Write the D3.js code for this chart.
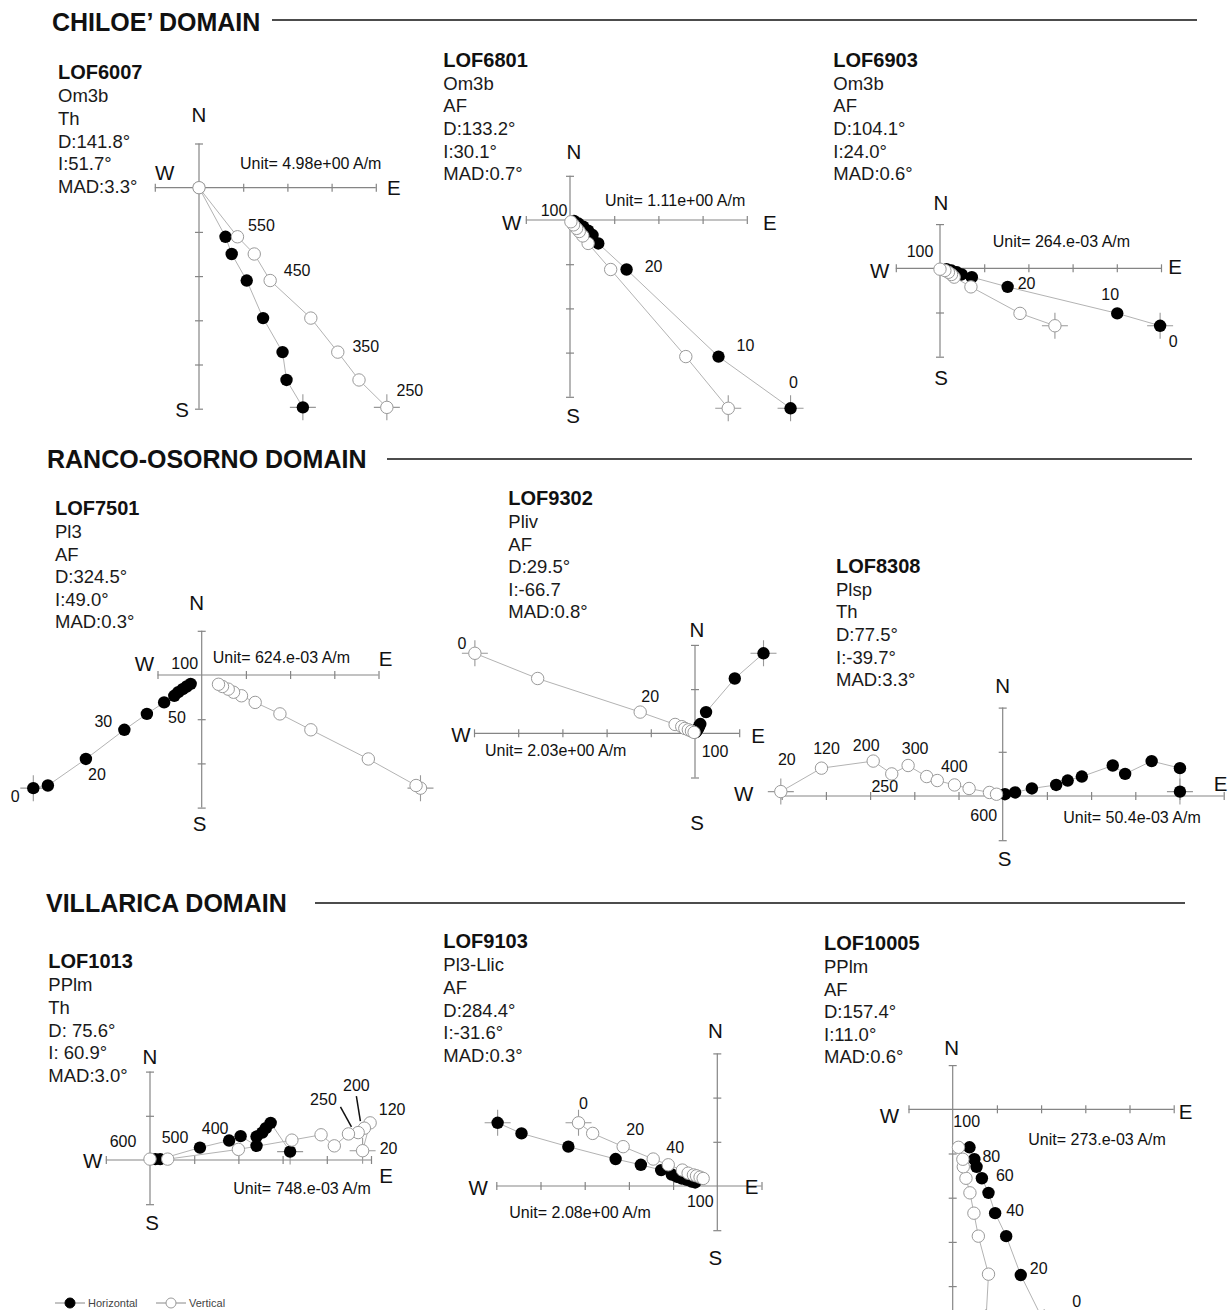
<!DOCTYPE html>
<html>
<head>
<meta charset="utf-8">
<script src="https://cdn.jsdelivr.net/npm/d3@7"></script>
<style>
  body { margin: 0; background: #fff; }
  svg { display: block; font-family: "Liberation Sans", Arial, Helvetica, sans-serif; }
</style>
</head>
<body>
<svg id="chart" width="1231" height="1310"></svg>
<script>
// ---------- Domain headings ----------
const domains = ["CHILOE\u2019 DOMAIN", "RANCO-OSORNO DOMAIN", "VILLARICA DOMAIN"];

// ---------- Sample names and summary lines ----------
const sampleNames = ["LOF6007", "LOF6801", "LOF6903", "LOF7501", "LOF9302", "LOF8308", "LOF1013", "LOF9103", "LOF10005"];
const sampleInfo = [
  ["Om3b", "Th", "D:141.8°", "I:51.7°", "MAD:3.3°"],
  ["Om3b", "AF", "D:133.2°", "I:30.1°", "MAD:0.7°"],
  ["Om3b", "AF", "D:104.1°", "I:24.0°", "MAD:0.6°"],
  ["Pl3", "AF", "D:324.5°", "I:49.0°", "MAD:0.3°"],
  ["Pliv", "AF", "D:29.5°", "I:-66.7", "MAD:0.8°"],
  ["Plsp", "Th", "D:77.5°", "I:-39.7°", "MAD:3.3°"],
  ["PPlm", "Th", "D: 75.6°", "I: 60.9°", "MAD:3.0°"],
  ["Pl3-Llic", "AF", "D:284.4°", "I:-31.6°", "MAD:0.3°"],
  ["PPlm", "AF", "D:157.4°", "I:11.0°", "MAD:0.6°"]
];
const unitLabels = [
  "Unit=  4.98e+00 A/m", "Unit=  1.11e+00 A/m", "Unit=  264.e-03 A/m",
  "Unit=  624.e-03 A/m", "Unit=  2.03e+00 A/m", "Unit=  50.4e-03 A/m",
  "Unit=  748.e-03 A/m", "Unit=  2.08e+00 A/m", "Unit=  273.e-03 A/m"
];

// ---------- Demagnetisation paths, in axis-unit multiples, first step (NRM) first ----------
// [east, north] for the horizontal projection, [east, up] style pairs for the vertical one
const lof6007H = [[2.35,-4.97],[1.98,-4.35],[1.89,-3.72],[1.45,-2.95],[1.08,-2.10],[0.74,-1.50],[0.60,-1.11],[0,0]];
const lof6007V = [[4.25,-4.97],[3.62,-4.35],[3.14,-3.72],[2.53,-2.95],[1.61,-2.10],[1.25,-1.50],[0.87,-1.11],[0,0]];

const lof6801H = [[4.99,-4.26],[3.36,-3.09],[1.28,-1.12],[0.64,-0.53],[0.51,-0.34],[0.41,-0.24],[0.30,-0.15],[0.19,-0.08],[0.09,-0.02]];
const lof6801V = [[3.58,-4.26],[2.62,-3.09],[0.92,-1.12],[0.41,-0.53],[0.29,-0.36],[0.21,-0.26],[0.15,-0.19],[0.08,-0.11],[0.02,-0.04]];

const lof6903H = [[4.98,-1.30],[4.01,-1.02],[1.53,-0.42],[0.72,-0.20],[0.49,-0.14],[0.38,-0.09],[0.26,-0.05],[0.15,-0.02]];
const lof6903V = [[2.60,-1.30],[1.81,-1.02],[0.70,-0.42],[0.32,-0.20],[0.26,-0.14],[0.19,-0.09],[0.11,-0.05],[0.00,-0.02]];

const lof7501H = [[-3.81,-2.56],[-3.48,-2.50],[-2.62,-1.90],[-1.75,-1.24],[-1.24,-0.88],[-0.85,-0.62],[-0.62,-0.47],[-0.53,-0.39],[-0.43,-0.32],[-0.34,-0.26],[-0.25,-0.20]];
const lof7501V = [[4.95,-2.56],[4.85,-2.50],[3.77,-1.90],[2.47,-1.24],[1.77,-0.88],[1.21,-0.62],[0.90,-0.47],[0.72,-0.39],[0.60,-0.32],[0.47,-0.26],[0.38,-0.21]];

const lof9302H = [[1.55,1.81],[0.90,1.24],[0.25,0.48],[0.12,0.21],[0.09,0.15],[0.07,0.11],[0.05,0.08],[0.03,0.05],[0.01,0.02]];
const lof9302V = [[-4.98,1.81],[-3.56,1.24],[-1.24,0.48],[-0.45,0.20],[-0.30,0.15],[-0.23,0.11],[-0.15,0.08],[-0.08,0.05],[-0.02,0.02]];

const lof8308H = [[4.01,0.10],[4.01,0.63],[3.37,0.79],[2.77,0.50],[2.49,0.69],[1.79,0.44],[1.47,0.35],[1.21,0.25],[0.66,0.17],[0.28,0.08],[0.05,0.04]];
const lof8308V = [[-5.02,0.10],[-4.10,0.63],[-2.93,0.79],[-2.51,0.50],[-2.14,0.69],[-1.72,0.44],[-1.48,0.35],[-1.09,0.25],[-0.76,0.17],[-0.30,0.08],[-0.14,0.04]];

const lof1013H = [[3.17,0.19],[2.73,0.84],[2.62,0.72],[2.54,0.62],[2.41,0.53],[2.41,0.32],[2.05,0.54],[1.79,0.44],[1.13,0.28],[0.23,0.02],[0.12,0.02]];
const lof1013V = [[4.81,0.21],[4.98,0.84],[4.85,0.72],[4.71,0.62],[4.49,0.59],[4.17,0.32],[3.87,0.57],[3.21,0.45],[2.00,0.24],[0.40,0.02],[0.00,0.02]];

const lof9103H = [[-4.97,1.43],[-4.43,1.19],[-3.37,0.89],[-2.30,0.61],[-1.73,0.48],[-1.27,0.36],[-1.03,0.26],[-0.92,0.21],[-0.81,0.17],[-0.69,0.14],[-0.58,0.10],[-0.50,0.08]];
const lof9103V = [[-3.14,1.43],[-2.82,1.19],[-2.13,0.89],[-1.45,0.61],[-1.11,0.48],[-0.79,0.36],[-0.66,0.29],[-0.54,0.25],[-0.47,0.23],[-0.39,0.20],[-0.32,0.17]];

const lof10005H = [[2.07,-4.82],[1.54,-3.75],[1.21,-2.87],[0.96,-2.35],[0.81,-1.89],[0.66,-1.56],[0.54,-1.30],[0.49,-1.13],[0.38,-0.86]];
const lof10005V = [[0.75,-4.82],[0.81,-3.73],[0.58,-2.87],[0.48,-2.35],[0.39,-1.89],[0.30,-1.56],[0.24,-1.30],[0.23,-1.13],[0.13,-0.86]];

const horizontalSeries = [lof6007H, lof6801H, lof6903H, lof7501H, lof9302H, lof8308H, lof1013H, lof9103H, lof10005H];
const verticalSeries   = [lof6007V, lof6801V, lof6903V, lof7501V, lof9302V, lof8308V, lof1013V, lof9103V, lof10005V];

// Demagnetisation step labels: [series ("h", "v" or "o" = origin), point index, text]
const stepLabels = [
  [["v",6,"550"],["v",4,"450"],["v",2,"350"],["v",0,"250"]],
  [["h",2,"20"],["h",1,"10"],["h",0,"0"],["o",0,"100"]],
  [["h",2,"20"],["h",1,"10"],["h",0,"0"],["o",0,"100"]],
  [["h",0,"0"],["h",2,"20"],["h",3,"30"],["h",4,"50"],["o",0,"100"]],
  [["v",0,"0"],["v",2,"20"],["o",0,"100"]],
  [["v",0,"20"],["v",1,"120"],["v",2,"200"],["v",3,"250"],["v",4,"300"],["v",6,"400"],["o",0,"600"]],
  [["o",0,"600"],["o",0,"500"],["h",7,"400"],["v",0,"20"],["v",1,"120"],["v",2,"200"],["v",4,"250"]],
  [["v",0,"0"],["v",2,"20"],["v",4,"40"],["o",0,"100"]],
  [["h",1,"20"],["h",3,"40"],["h",5,"60"],["h",7,"80"],["o",0,"0"],["o",0,"100"]]
];

// ---------- Layout (pixels) ----------
const U = 44.2;                // pixels per axis unit
const headings = [
  { x: 52, y: 31, lx1: 272, lx2: 1197, ly: 20 },
  { x: 47, y: 468, lx1: 387, lx2: 1192, ly: 459 },
  { x: 46, y: 912, lx1: 315, lx2: 1185, ly: 903 }
];
// ox, oy: origin; ext: [xmin, xmax, ymin, ymax] in axis units;
// tx, ty: sample name position; ux, uy: unit text; cN/cW/cE/cS: compass letter offsets from axis ends;
// lab: offsets of step labels (same order as stepLabels); lead: optional leader lines
const panels = [
  { ox: 199, oy: 187.7, ext: [-1,4,-5,1], tx: 58, ty: 79.3, ux: 240, uy: 169,
    cN: [0,-29], cW: [10,-15], cE: [18,0], cS: [-17,1],
    lab: [[24,-11],[27,-10],[28,-6],[23,-17]] },
  { ox: 570, oy: 220, ext: [-1,4,-4,1], tx: 443.3, ty: 66.7, ux: 605, uy: 206,
    cN: [4,-24], cW: [-14,2], cE: [23,2], cS: [3,19],
    lab: [[27,-3],[27,-11],[3,-26],[-16,-10]] },
  { ox: 940, oy: 268.3, ext: [-1,5,-2,1], tx: 833.3, ty: 66.7, ux: 992.7, uy: 247,
    cN: [1,-22], cW: [-16,2], cE: [14,-2], cS: [1,21],
    lab: [[19,-3],[-7,-19],[13,16],[-20,-17]] },
  { ox: 201.7, oy: 675, ext: [-1,4,-3,1], tx: 55, ty: 515, ux: 212.7, uy: 663,
    cN: [-5,-28], cW: [-13,-12], cE: [7,-17], cS: [-2,16],
    lab: [[-18,8],[11,16],[-21,-8],[30,4],[-17,-12]] },
  { ox: 695, oy: 733.3, ext: [-5,1,-1,2], tx: 508.3, ty: 505, ux: 485, uy: 756,
    cN: [2,-15], cW: [-13,1], cE: [19,2], cS: [2,45],
    lab: [[-13,-10],[10,-16],[20,18]] },
  { ox: 1002.7, oy: 796, ext: [-5,5,-1,2], tx: 836, ty: 572.7, ux: 1063.3, uy: 823,
    cN: [0,-22], cW: [-38,-3], cE: [-3,-13], cS: [2,18],
    lab: [[6,-32],[5,-20],[-7,-16],[-7,13],[7,-17],[17,-14],[-19,19]] },
  { ox: 150, oy: 1160, ext: [-1,5,-1,2], tx: 48.3, ty: 968.3, ux: 233.3, uy: 1194,
    cN: [0,-15], cW: [-13,0], cE: [15,15], cS: [2,18],
    lab: [[-27,-19],[25,-23],[-14,-12],[26,-2],[22,-13],[-8,-43],[-25,-34]],
    lead: [[5,-8,-32,-4,-7],[6,-8,-27,3,-7]] },
  { ox: 717.3, oy: 1186, ext: [-5,1,-1,3], tx: 443.3, ty: 948.3, ux: 509.3, uy: 1218,
    cN: [-2,-23], cW: [-18,1], cE: [-10,0], cS: [-2,27],
    lab: [[5,-19],[12,-17],[7,-17],[-17,15]] },
  { ox: 952.7, oy: 1109.3, ext: [-1,5,-5,1], tx: 824, ty: 950, ux: 1028.3, uy: 1145,
    cN: [-1,-18], cW: [-19,6], cE: [12,2], cS: null,
    lab: [[18,-7],[20,-3],[23,-3],[17,-3],[124,192],[14,12]] }
];

const axisCol = "#858585";
const pathCol = "#b3b3b3";
const openStroke = "#9a9a9a";
const R = 6.2;

const svg = d3.select("#chart");

// ---------- Domain headings ----------
headings.forEach((h, i) => {
  svg.append("text").attr("x", h.x).attr("y", h.y)
    .attr("font-size", 25).attr("font-weight", "bold").attr("fill", "#111")
    .text(domains[i]);
  svg.append("line").attr("x1", h.lx1).attr("x2", h.lx2).attr("y1", h.ly).attr("y2", h.ly)
    .attr("stroke", "#111").attr("stroke-width", 1.4);
});

// ---------- One orthogonal vector plot per sample ----------
panels.forEach((p, k) => {
  const g = svg.append("g");
  const x = d3.scaleLinear().domain([0, 1]).range([p.ox, p.ox + U]);
  const y = d3.scaleLinear().domain([0, 1]).range([p.oy, p.oy - U]);
  const [x0, x1, y0, y1] = p.ext;

  // sample text block
  g.append("text").attr("x", p.tx).attr("y", p.ty)
    .attr("font-size", 20).attr("font-weight", "bold").attr("fill", "#111")
    .text(sampleNames[k]);
  sampleInfo[k].forEach((s, j) => {
    g.append("text").attr("x", p.tx).attr("y", p.ty + 23 + j * 22.6)
      .attr("font-size", 18.5).attr("fill", "#1a1a1a").text(s);
  });

  // axes
  g.append("line").attr("x1", x(x0)).attr("x2", x(x1)).attr("y1", y(0)).attr("y2", y(0))
    .attr("stroke", axisCol).attr("stroke-width", 1.2);
  g.append("line").attr("x1", x(0)).attr("x2", x(0)).attr("y1", y(y0)).attr("y2", y(y1))
    .attr("stroke", axisCol).attr("stroke-width", 1.2);
  const xt = d3.range(x0, x1 + 1).filter(v => v !== 0);
  const yt = d3.range(y0, y1 + 1).filter(v => v !== 0);
  g.append("g").attr("transform", `translate(0,${y(0) - 4})`)
    .call(d3.axisBottom(x).tickValues(xt).tickSize(8).tickSizeOuter(0).tickFormat(""))
    .call(a => a.select(".domain").remove())
    .selectAll("line").attr("stroke", axisCol).attr("stroke-width", 1.2);
  g.append("g").attr("transform", `translate(${x(0) - 4},0)`)
    .call(d3.axisRight(y).tickValues(yt).tickSize(8).tickSizeOuter(0).tickFormat(""))
    .call(a => a.select(".domain").remove())
    .selectAll("line").attr("stroke", axisCol).attr("stroke-width", 1.2);

  // compass letters
  const comp = [
    ["N", x(0), y(y1), p.cN], ["W", x(x0), y(0), p.cW],
    ["E", x(x1), y(0), p.cE], ["S", x(0), y(y0), p.cS]
  ];
  comp.forEach(([t, ax, ay, off]) => {
    if (!off) return;
    g.append("text").attr("x", ax + off[0]).attr("y", ay + off[1])
      .attr("text-anchor", "middle").attr("dominant-baseline", "central")
      .attr("font-size", 20.5).attr("fill", "#111").text(t);
  });

  // unit
  g.append("text").attr("x", p.ux).attr("y", p.uy)
    .attr("font-size", 16).attr("fill", "#111")
    .text(unitLabels[k]);

  const H = horizontalSeries[k], V = verticalSeries[k];
  const line = d3.line().x(d => x(d[0])).y(d => y(d[1]));
  [H, V].forEach(s => {
    g.append("path").attr("d", line(s)).attr("fill", "none")
      .attr("stroke", pathCol).attr("stroke-width", 1);
  });
  // crosshair on the first (NRM) step
  [H[0], V[0]].forEach(d => {
    const cx = x(d[0]), cy = y(d[1]);
    g.append("path").attr("d", `M${cx - 13},${cy}H${cx + 13}M${cx},${cy - 13}V${cy + 13}`)
      .attr("stroke", "#999").attr("stroke-width", 1.1).attr("fill", "none");
  });
  g.selectAll(null).data(H).join("circle")
    .attr("cx", d => x(d[0])).attr("cy", d => y(d[1])).attr("r", R).attr("fill", "#000");
  g.selectAll(null).data(V).join("circle")
    .attr("cx", d => x(d[0])).attr("cy", d => y(d[1])).attr("r", R)
    .attr("fill", "#fff").attr("stroke", openStroke).attr("stroke-width", 1);

  // step labels
  const anchorOf = (s, i) => s === "h" ? H[i] : s === "v" ? V[i] : [0, 0];
  stepLabels[k].forEach(([s, i, t], j) => {
    const d = anchorOf(s, i), o = p.lab[j];
    g.append("text").attr("x", x(d[0]) + o[0]).attr("y", y(d[1]) + o[1])
      .attr("text-anchor", "middle").attr("dominant-baseline", "central")
      .attr("font-size", 16).attr("fill", "#111").text(t);
  });
  (p.lead || []).forEach(([j, a, b, c, e]) => {
    const [s, i] = stepLabels[k][j];
    const d = anchorOf(s, i);
    g.append("line")
      .attr("x1", x(d[0]) + a).attr("y1", y(d[1]) + b)
      .attr("x2", x(d[0]) + c).attr("y2", y(d[1]) + e)
      .attr("stroke", "#111").attr("stroke-width", 1.5);
  });
});

// ---------- Legend ----------
const legend = svg.append("g").attr("font-size", 11).attr("fill", "#444");
[["Horizontal", 55, "#000", "#000"], ["Vertical", 156, "#fff", openStroke]].forEach(([t, lx, fill, stroke]) => {
  legend.append("line").attr("x1", lx).attr("x2", lx + 30).attr("y1", 1303).attr("y2", 1303)
    .attr("stroke", "#888").attr("stroke-width", 1);
  legend.append("circle").attr("cx", lx + 15).attr("cy", 1303).attr("r", 5)
    .attr("fill", fill).attr("stroke", stroke);
  legend.append("text").attr("x", lx + 33).attr("y", 1307).text(t);
});
</script>
</body>
</html>
